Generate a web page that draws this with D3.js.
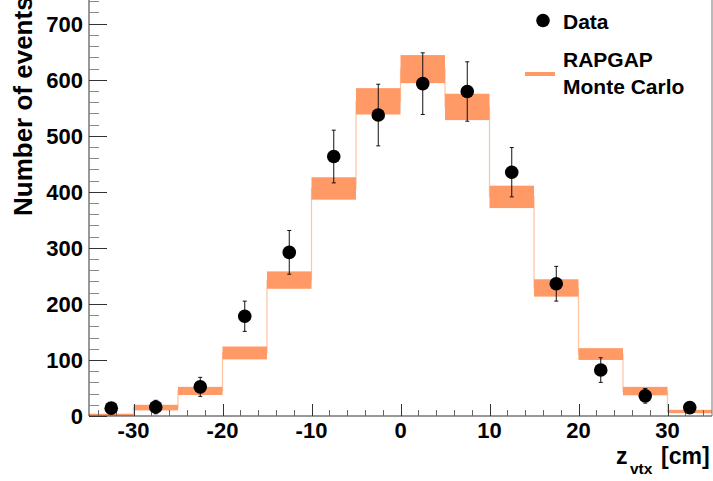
<!DOCTYPE html>
<html>
<head>
<meta charset="utf-8">
<script src="https://cdn.jsdelivr.net/npm/d3@7"></script>
<style>
  html, body { margin: 0; padding: 0; background: #fff; }
  svg { display: block; }
  text { font-family: "Liberation Sans", Arial, Helvetica, sans-serif; font-weight: bold; fill: #000; }
</style>
</head>
<body>
<svg id="chart" width="713" height="481"></svg>
<script>
// ---- data ----
const binEdges = [-35, -30, -25, -20, -15, -10, -5, 0, 5, 10, 15, 20, 25, 30, 35];
const binCenters = [-32.5, -27.5, -22.5, -17.5, -12.5, -7.5, -2.5, 2.5, 7.5, 12.5, 17.5, 22.5, 27.5, 32.5];
const dataValues = [14, 16, 52, 178, 292, 463, 537, 593, 579, 435, 236, 82, 36, 15];
const dataErrors = [4, 12, 17, 27, 39, 47, 55, 55, 53, 44, 31, 22, 13, 5];
const mcLow  = [0.5, 10, 37.5, 101, 227, 386, 538, 594, 528, 371, 213, 100, 37, 5];
const mcHigh = [4, 20, 52, 124, 258, 426, 585, 644, 575, 411, 244, 121, 52, 11];
const xTicks = [-30, -20, -10, 0, 10, 20, 30];
const yTicks = [0, 100, 200, 300, 400, 500, 600, 700];
const legendLabels = ["Data", "RAPGAP", "Monte Carlo"];

// ---- layout ----
const svg = d3.select("#chart");
const plotLeft = 89, plotRight = 712, plotBottom = 416;
const x = d3.scaleLinear().domain([-35, 35]).range([plotLeft, plotRight]);
const y = d3.scaleLinear().domain([0, 700]).range([plotBottom, 23.7]);
const plotTop = y(750);
const bandColor = "#ff9966";

// MC central step line (underneath the bands)
const mid = mcLow.map((d, i) => (mcLow[i] + mcHigh[i]) / 2);
const stepPts = [];
mid.forEach((v, i) => { stepPts.push([binEdges[i], v]); stepPts.push([binEdges[i + 1], v]); });
svg.append("path")
  .attr("d", d3.line().x(d => x(d[0])).y(d => y(d[1]))(stepPts))
  .attr("fill", "none").attr("stroke", "#ffc4a2").attr("stroke-width", 1.2);

// MC band boxes
svg.append("g").selectAll("rect").data(mcLow).join("rect")
  .attr("x", (d, i) => x(binEdges[i]))
  .attr("width", (d, i) => x(binEdges[i + 1]) - x(binEdges[i]))
  .attr("y", (d, i) => y(mcHigh[i]))
  .attr("height", (d, i) => y(mcLow[i]) - y(mcHigh[i]))
  .attr("fill", bandColor);

// Axes frame
const axisColor = "#333";
svg.append("line").attr("x1", plotLeft).attr("x2", plotLeft).attr("y1", plotTop).attr("y2", plotBottom).attr("stroke", axisColor);
svg.append("line").attr("x1", plotLeft).attr("x2", plotRight).attr("y1", plotBottom).attr("y2", plotBottom).attr("stroke", axisColor);
svg.append("line").attr("x1", plotRight).attr("x2", plotRight).attr("y1", plotTop).attr("y2", plotBottom).attr("stroke", "#777");

// Y ticks (inside)
const yMinor = d3.range(0, 751, 20);
svg.append("g").selectAll("line").data(yMinor).join("line")
  .attr("x1", plotLeft).attr("x2", d => plotLeft + (d % 100 === 0 ? 18 : 10))
  .attr("y1", d => Math.round(y(d)) + 0.5).attr("y2", d => Math.round(y(d)) + 0.5)
  .attr("stroke", d => d % 100 === 0 ? "#333" : "#888");
svg.append("g").selectAll("text").data(yTicks).join("text")
  .attr("x", plotLeft - 6).attr("y", d => y(d) + 8)
  .attr("text-anchor", "end").attr("font-size", 22)
  .text(d => d);

// X ticks (inside)
const xMinor = d3.range(-34, 35, 2);
svg.append("g").selectAll("line").data(xMinor.concat(xTicks)).join("line")
  .attr("x1", d => Math.round(x(d)) + 0.5).attr("x2", d => Math.round(x(d)) + 0.5)
  .attr("y1", plotBottom).attr("y2", d => plotBottom - (xTicks.includes(d) ? 12 : 6))
  .attr("stroke", d => xTicks.includes(d) ? "#333" : "#666");
svg.append("g").selectAll("text").data(xTicks).join("text")
  .attr("x", d => x(d)).attr("y", 438)
  .attr("text-anchor", "middle").attr("font-size", 22)
  .text(d => d);

// Axis titles
svg.append("text").attr("transform", "translate(32,216) rotate(-90)")
  .attr("font-size", 26).attr("text-anchor", "start").text("Number of events");
const xt = svg.append("text").attr("y", 464).attr("font-size", 23);
xt.append("tspan").attr("x", 616).text("z");
xt.append("tspan").attr("x", 630).attr("font-size", 15.5).attr("dy", 10).text("vtx");
xt.append("tspan").attr("x", 661).attr("dy", -10).text("[cm]");

// Data error bars
const eb = svg.append("g").attr("stroke", "#111").attr("stroke-width", 1);
dataValues.forEach((v, i) => {
  const cx = x(binCenters[i]);
  const y1 = y(v + dataErrors[i]), y2 = y(Math.max(0, v - dataErrors[i]));
  eb.append("line").attr("x1", cx).attr("x2", cx).attr("y1", y1).attr("y2", y2);
  eb.append("line").attr("x1", cx - 2).attr("x2", cx + 2).attr("y1", y1).attr("y2", y1);
  eb.append("line").attr("x1", cx - 2).attr("x2", cx + 2).attr("y1", y2).attr("y2", y2);
});
// Data markers
svg.append("g").selectAll("circle").data(dataValues).join("circle")
  .attr("cx", (d, i) => x(binCenters[i])).attr("cy", d => y(d))
  .attr("r", 6.8).attr("fill", "#000");

// Legend
svg.append("circle").attr("cx", 543).attr("cy", 20.5).attr("r", 6.8).attr("fill", "#000");
svg.append("text").attr("x", 563).attr("y", 29).attr("font-size", 21).text(legendLabels[0]);
svg.append("line").attr("x1", 525).attr("x2", 555).attr("y1", 74).attr("y2", 74)
  .attr("stroke", bandColor).attr("stroke-width", 4);
svg.append("text").attr("x", 563).attr("y", 67).attr("font-size", 21).text(legendLabels[1]);
svg.append("text").attr("x", 563).attr("y", 94).attr("font-size", 21).text(legendLabels[2]);
</script>
</body>
</html>
